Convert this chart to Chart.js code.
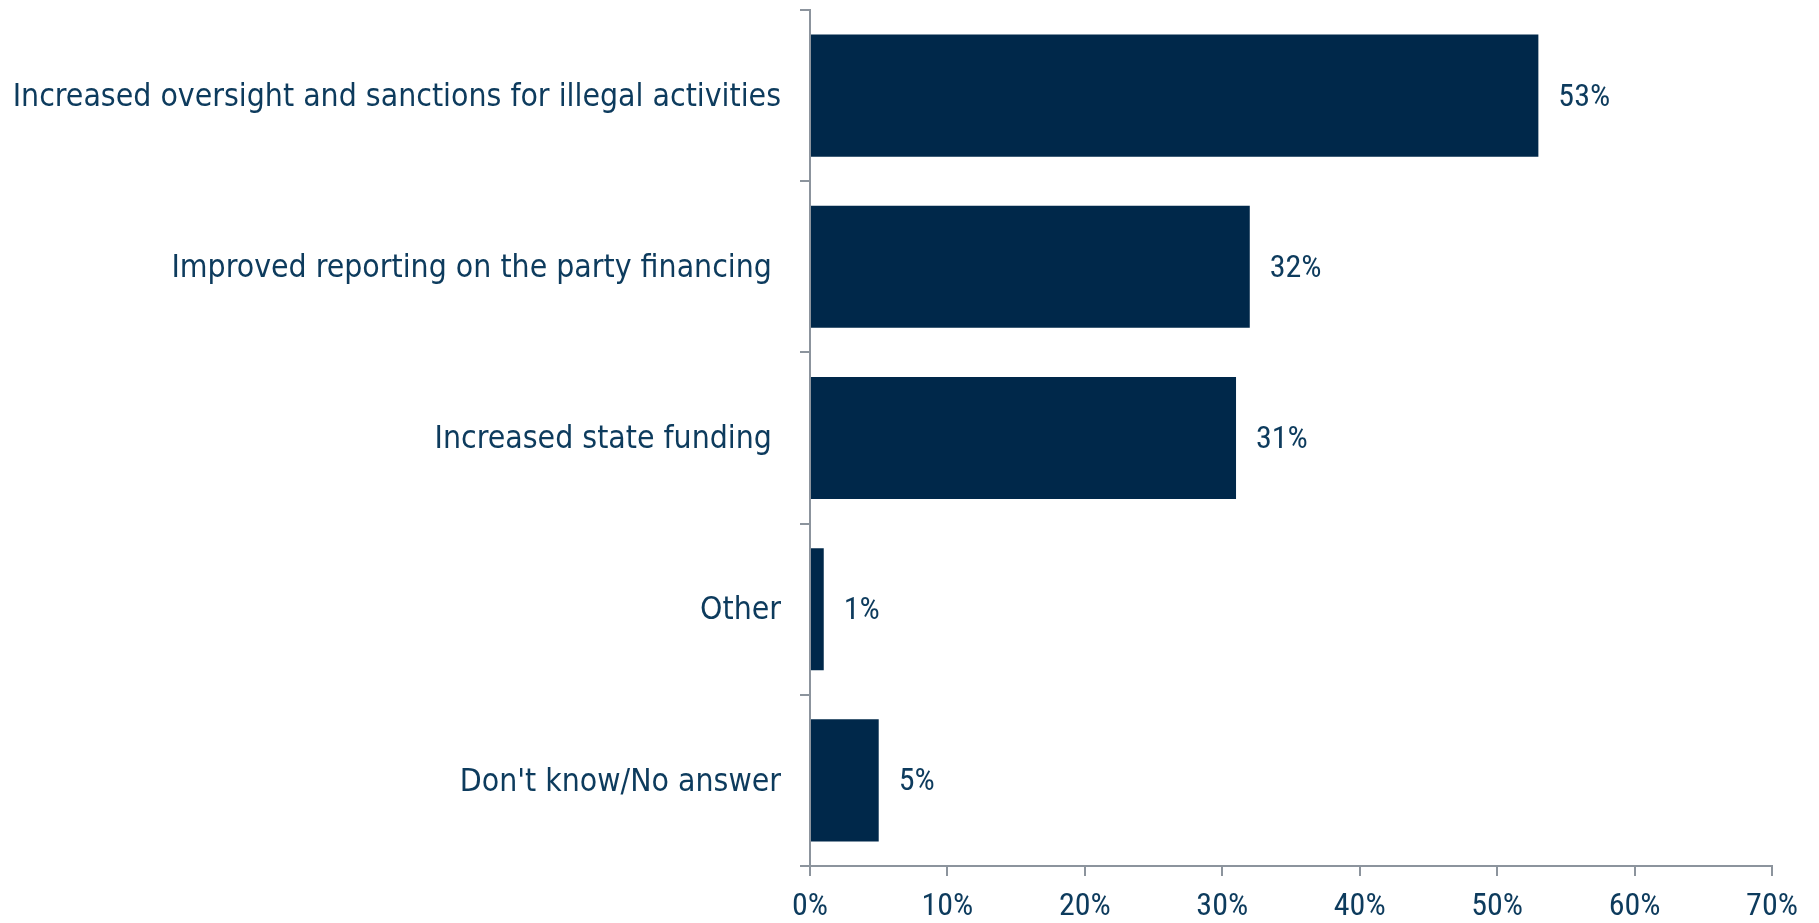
<!DOCTYPE html>
<html>
<head>
<meta charset="utf-8">
<script src="https://cdn.jsdelivr.net/npm/chart.js@4.4.1/dist/chart.umd.min.js"></script>
<style>
html,body{margin:0;padding:0;background:#fff;}
#wrap{width:1819px;height:923px;position:relative;}
</style>
</head>
<body>
<div id="wrap"><canvas id="c" width="1819" height="923"></canvas></div>
<script>
const categories = [
  "Increased oversight and sanctions for illegal activities",
  "Improved reporting on the party financing ",
  "Increased state funding ",
  "Other",
  "Don't know/No answer"
];
const values = [53, 32, 31, 1, 5];
const xTicks = [0, 10, 20, 30, 40, 50, 60, 70];

const BAR = '#00284a';
const TEXT = '#0d3b5d';
const AXIS = '#8c949d';
const LABEL_FONT = "'DejaVu Sans Condensed', 'DejaVu Sans', sans-serif";
const NUM_FONT = "'Roboto Condensed', 'Roboto', sans-serif";

const labelPlugin = {
  id: 'valueLabels',
  afterDatasetsDraw(chart) {
    const ctx = chart.ctx;
    const meta = chart.getDatasetMeta(0);
    ctx.save();
    ctx.font = '32px ' + NUM_FONT;
    ctx.fillStyle = TEXT;
    ctx.textAlign = 'left';
    ctx.textBaseline = 'middle';
    meta.data.forEach((bar, i) => {
      ctx.fillText(values[i] + '%', bar.x + 20, bar.y + 2);
    });
    ctx.restore();
  }
};

new Chart(document.getElementById('c'), {
  type: 'bar',
  data: {
    labels: categories,
    datasets: [{
      data: values,
      backgroundColor: BAR,
      borderWidth: 0,
      categoryPercentage: 0.713,
      barPercentage: 1
    }]
  },
  options: {
    indexAxis: 'y',
    responsive: false,
    animation: false,
    devicePixelRatio: 1,
    layout: { padding: { top: 10, right: 47, left: 0, bottom: 0 } },
    plugins: { legend: { display: false }, tooltip: { enabled: false } },
    scales: {
      x: {
        min: 0, max: 70,
        afterBuildTicks(scale) { scale.ticks = xTicks.map(v => ({ value: v })); },
        afterFit(scale) { scale.height = 57; scale.paddingLeft = 0; },
        border: { display: true, color: AXIS, width: 2 },
        grid: { drawOnChartArea: false, drawTicks: true, tickLength: 10, color: AXIS, lineWidth: 2 },
        ticks: {
          color: TEXT,
          font: { family: NUM_FONT, size: 32 },
          padding: 12,
          maxRotation: 0,
          callback: v => v + '%'
        }
      },
      y: {
        afterFit(scale) { scale.width = 810; scale.paddingTop = 0; scale.paddingBottom = 0; },
        border: { display: true, color: AXIS, width: 2 },
        grid: { offset: true, drawOnChartArea: false, drawTicks: true, tickLength: 10, color: AXIS, lineWidth: 2 },
        ticks: {
          color: TEXT,
          font: { family: LABEL_FONT, size: 31.7 },
          padding: 19,
          labelOffset: 2
        }
      }
    }
  },
  plugins: [labelPlugin]
});
</script>
</body>
</html>
